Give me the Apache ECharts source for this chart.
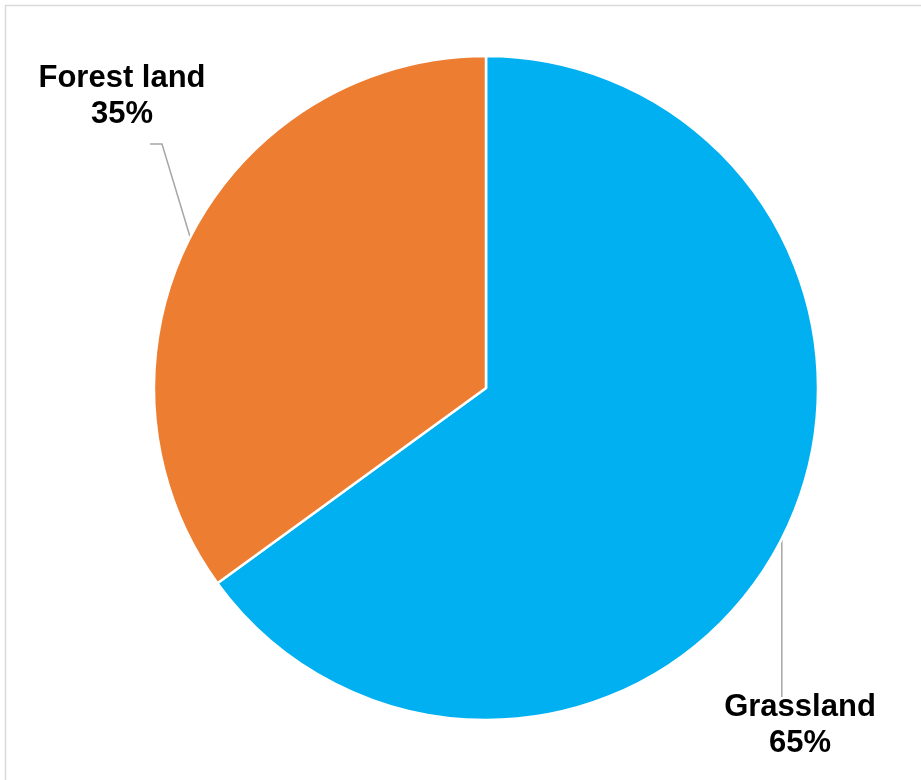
<!DOCTYPE html>
<html><head><meta charset="utf-8">
<script src="https://cdn.jsdelivr.net/npm/echarts@6/dist/echarts.min.js"></script>
<style>html,body{margin:0;padding:0;background:#fff}#c{width:921px;height:780px}</style>
</head><body><div id="c"></div>
<script>
const categories = ['Grassland', 'Forest land'];
const values = [65, 35];
const colors = ['#00B0F0', '#ED7D31'];

const chart = echarts.init(document.getElementById('c'));
const labelPos = [
  {x: 800, y: 689},
  {x: 122, y: 60}
];
chart.setOption({
  backgroundColor: '#fff',
  animation: false,
  graphic: [{
    type: 'rect', silent: true,
    shape: {x: 5.5, y: 5.5, width: 1000, height: 1000},
    style: {fill: 'none', stroke: '#d9d9d9', lineWidth: 1.5}
  }],
  series: [{
    type: 'pie',
    center: [486, 388],
    radius: 332,
    startAngle: 90,
    clockwise: true,
    data: categories.map((c, i) => ({name: c, value: values[i], itemStyle: {color: colors[i]}})),
    itemStyle: {borderColor: '#fff', borderWidth: 2.5},
    label: {
      show: true,
      formatter: '{b}\n{d}%',
      fontFamily: 'Liberation Sans, Arial, sans-serif',
      fontWeight: 'bold',
      fontSize: 31,
      lineHeight: 36,
      color: '#000',
      align: 'center',
      overflow: 'none',
      width: 300
    },
    labelLine: {show: true, length: 10, length2: 10, lineStyle: {color: '#a6a6a6', width: 1.5}},
    labelLayout: function (p) {
      const i = p.dataIndex;
      const s = p.labelLinePoints ? p.labelLinePoints[0] : [0, 0];
      let pts;
      if (i === 0) {
        pts = [s, [s[0], 697]];
      } else {
        pts = [s, [162, 144], [150, 144]];
      }
      return {x: labelPos[i].x, y: labelPos[i].y, align: 'center', verticalAlign: 'top', labelLinePoints: pts};
    },
    emphasis: {disabled: true}
  }]
});
</script></body></html>
